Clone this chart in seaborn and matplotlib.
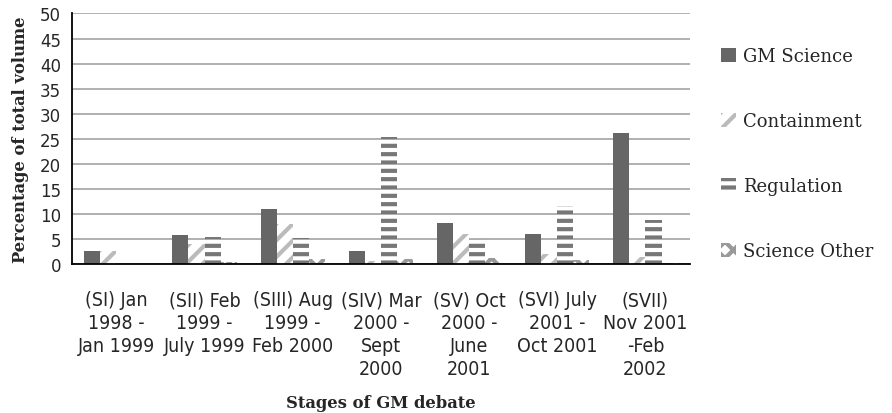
import matplotlib
matplotlib.use('Agg')
import matplotlib.pyplot as plt
import numpy as np
import pandas as pd
import seaborn as sns

stages = ["(SI) Jan\n1998 -\nJan 1999", "(SII) Feb\n1999 -\nJuly 1999",
          "(SIII) Aug\n1999 -\nFeb 2000", "(SIV) Mar\n2000 -\nSept\n2000",
          "(SV) Oct\n2000 -\nJune\n2001", "(SVI) July\n2001 -\nOct 2001",
          "(SVII)\nNov 2001\n-Feb\n2002"]
topics = ["GM Science", "Containment", "Regulation", "Science Other"]
gm_science = [2.5, 5.7, 11.0, 2.5, 8.2, 5.9, 26.1]
containment = [2.6, 4.0, 8.0, 0.5, 5.9, 1.9, 1.4]
regulation = [0.0, 5.4, 5.2, 25.3, 5.0, 11.5, 8.8]
science_other = [0.0, 0.3, 1.0, 1.0, 1.1, 0.8, 0.2]

rows = []
for name, vals in zip(topics, [gm_science, containment, regulation, science_other]):
    for s, v in zip(stages, vals):
        rows.append({"stage": s, "topic": name, "value": v})
df = pd.DataFrame(rows)

sns.set_style("white")
plt.rcParams['hatch.linewidth'] = 3

fig, ax = plt.subplots(figsize=(8.92, 4.14), dpi=100)
fig.subplots_adjust(left=0.081, right=0.773, top=0.965, bottom=0.36)

sns.barplot(data=df, x="stage", y="value", hue="topic", hue_order=topics,
            palette=["#666666", "white", "white", "white"], width=0.73,
            saturation=1, ax=ax, legend=False)

hatches = [None, "//", "--", "xx"]
hatch_cols = ["#666666", "#bbbbbb", "#777777", "#999999"]
handles = []
for cont, h, hc, name in zip(ax.containers, hatches, hatch_cols, topics):
    for p in cont.patches:
        p.set_linewidth(0)
        if h:
            p.set_hatch(h)
            p.set_edgecolor(hc)
    handles.append(plt.Rectangle((0, 0), 1, 1, facecolor="#666666" if h is None else "white",
                                 edgecolor=hc, hatch=h, linewidth=0))

ax.set_ylim(0, 50)
ax.set_yticks(range(0, 51, 5))
ax.set_xlim(-0.5, len(stages) - 0.5)
ax.yaxis.grid(True, color="#aaaaaa", linewidth=1.3)
ax.set_axisbelow(True)
for sp in ["top", "right"]:
    ax.spines[sp].set_visible(False)
ax.spines["left"].set_color("black")
ax.spines["bottom"].set_color("black")
ax.spines["left"].set_linewidth(1.3)
ax.spines["bottom"].set_linewidth(1.3)

ax.set_xticks(np.arange(-0.5, len(stages), 1), minor=True)
ax.tick_params(axis="x", which="major", length=0, pad=19)
ax.tick_params(axis="x", which="minor", length=5, width=1.3, color="black", direction="out")
ax.tick_params(axis="y", length=5, width=1.3, color="black", direction="out", pad=3)
ax.set_xticklabels(stages, fontsize=14, linespacing=1.25,
                   family="DejaVu Sans", stretch="condensed")
for t in ax.get_yticklabels():
    t.set_fontsize(12)

ax.set_ylabel("Percentage of total volume", fontsize=11.8, fontweight="bold",
              family="DejaVu Serif", labelpad=8)
ax.set_xlabel("Stages of GM debate", fontsize=11.8, fontweight="bold",
              family="DejaVu Serif", labelpad=12)

leg = ax.legend(handles, topics, loc="center left", bbox_to_anchor=(1.025, 0.44),
                frameon=False, prop={"family": "DejaVu Serif", "size": 13},
                labelspacing=2.6, handlelength=0.8, handleheight=0.8, handletextpad=0.4)

fig.savefig("out.png", dpi=100)
